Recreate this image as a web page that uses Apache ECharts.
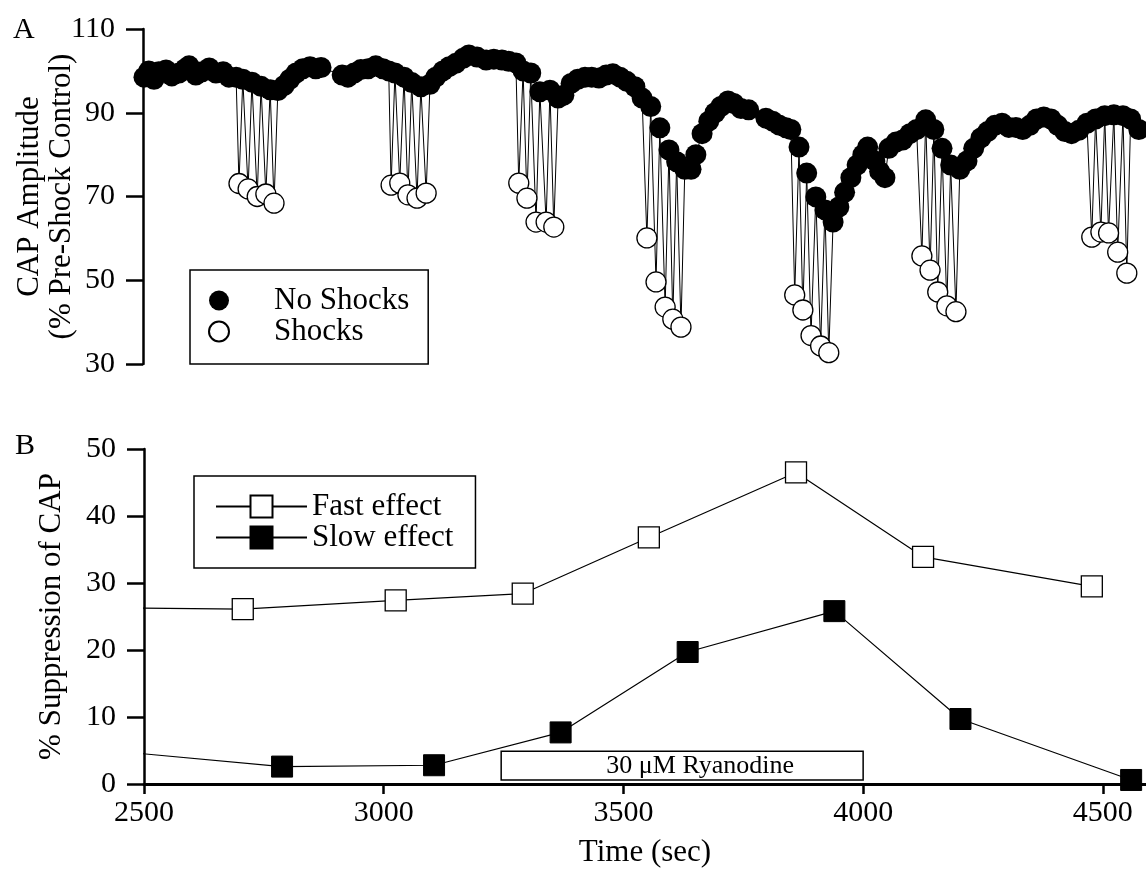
<!DOCTYPE html>
<html><head><meta charset="utf-8">
<script src="https://cdn.jsdelivr.net/npm/echarts@6/dist/echarts.min.js"></script>
<style>html,body{margin:0;padding:0;background:#fff}#c{width:1146px;height:869px}</style>
</head><body><div id="c"></div>
<script>
// ---- Panel A: CAP amplitude (% pre-shock control) ----
const noShockTime = [2502,2512,2523,2533,2548,2560,2575,2588,2596,2610,2623,2638,2652,2667,2679,2694,2708,2727,2746,2765,2781,2794,2806,2819,2833,2848,2860,2871,
  2915,2927,2940,2954,2969,2985,3000,3012,3025,3044,3060,3079,3098,3110,3125,3138,3152,3167,3179,3196,3215,3231,3248,3262,3277,3292,3308,3327,3348,3365,
  3377,3392,3406,3421,3435,3450,3465,3479,3494,3508,3525,3540,3558,3577,3596,3612,3629,3642,3652,3665,3679,3692,3704,3719,3731,3746,3762,
  3798,3812,3825,3840,3850,3867,3883,3902,3921,3938,3950,3962,3975,3988,4000,4010,4025,4035,4046,4054,4069,4083,4098,4112,4131,4148,4165,4183,4202,
  4217,4231,4246,4260,4275,4290,4304,4319,4333,4348,4362,4377,4392,4406,4421,4435,4450,4467,4485,4504,4523,4542,4558,4575];
const noShockCAP = [98.5,100.0,98.0,99.8,100.2,98.8,99.5,100.5,101.2,99.0,99.8,100.7,99.5,99.8,98.5,98.5,98.0,97.3,96.3,95.5,95.3,96.5,98.0,99.5,100.5,101.0,100.5,100.8,
  99.0,98.5,99.5,100.3,100.5,101.2,100.5,100.0,99.5,98.5,97.2,96.2,96.8,98.5,100.0,101.0,101.8,103.0,103.8,103.3,102.6,102.8,102.6,102.3,101.9,100.0,99.5,95.0,95.4,93.5,
  94.2,97.0,98.0,98.5,98.5,98.3,99.0,99.3,98.5,97.5,96.2,93.5,91.5,86.4,81.1,78.3,76.5,76.5,80.0,85.0,88.0,90.0,91.5,92.8,92.2,91.0,90.7,
  88.7,88.0,87.1,86.4,86.0,81.8,75.6,69.9,66.8,63.9,67.5,71.0,74.5,77.5,80.0,81.8,78.5,76.0,74.5,81.5,83.0,83.5,85.0,86.0,88.3,86.0,81.5,77.5,76.5,
  78.5,81.5,84.0,85.5,87.0,87.5,86.5,86.5,86.0,87.0,88.5,89.0,88.5,87.0,85.5,85.0,85.8,87.5,88.5,89.3,89.5,89.3,88.5,86.0];
const shockTime = [2700,2719,2738,2756,2773, 3017,3035,3052,3071,3090, 3283,3300,3319,3340,3356, 3550,3569,3588,3604,3621,
  3858,3875,3892,3912,3929, 4123,4140,4156,4175,4194, 4477,4496,4512,4531,4550];
const shockCAP = [73.1,71.8,70.0,70.6,68.4, 72.7,73.2,70.4,69.6,70.8, 73.2,69.6,63.9,63.9,62.7, 60.1,49.6,43.6,40.7,38.8,
  46.5,42.9,36.8,34.3,32.7, 55.8,52.4,47.2,43.9,42.5, 60.3,61.5,61.3,56.7,51.7];

// ---- Panel B: % suppression of CAP ----
const fastTime = [2440,2706,3025,3290,3553,3860,4125,4477];
const fastEffect = [26.3,26.1,27.4,28.4,36.8,46.5,33.9,29.5];
const slowTime = [2440,2788,3105,3369,3634,3940,4203,4559];
const slowEffect = [4.9,2.6,2.8,7.7,19.7,25.8,9.7,0.6];

const timeTicks = [2500,3000,3500,4000,4500];
const ryanodineLabel = '30 μM Ryanodine';
const ryanodineStart = 3245, ryanodineEnd = 4000;
const ryanodineLow = 0.6, ryanodineHigh = 4.9;

// ---- build ----
const FONT = "'Liberation Serif','Times New Roman',serif";
const zip = (a, b) => a.map((t, i) => [t, b[i]]);
const noShockData = zip(noShockTime, noShockCAP);
const shockData = zip(shockTime, shockCAP);
const traceData = noShockData.concat(shockData).sort((p, q) => p[0] - q[0]);

const chart = echarts.init(document.getElementById('c'), null, {renderer: 'canvas'});
const txt = {color: '#000', fontFamily: FONT};
const plain = v => String(v);
const yBase = (extra) => Object.assign({
  type: 'value',
  axisLine: {show: true, onZero: false, lineStyle: {color: '#000', width: 2.5}},
  axisTick: {show: true, length: 17, lineStyle: {color: '#000', width: 2.5}},
  axisLabel: Object.assign({fontSize: 30, margin: 28, formatter: plain}, txt),
  splitLine: {show: false},
  nameLocation: 'middle', nameRotate: 90, nameMoveOverlap: false,
  nameTextStyle: Object.assign({fontSize: 31, lineHeight: 32}, txt)
}, extra);

chart.setOption({
  animation: false,
  backgroundColor: '#fff',
  title: [
    {text: 'A', left: 8, top: 10, textStyle: Object.assign({fontSize: 30, fontWeight: 'normal'}, txt)},
    {text: 'B', left: 10, top: 426, textStyle: Object.assign({fontSize: 30, fontWeight: 'normal'}, txt)}
  ],
  grid: [
    {left: 143, top: 29, height: 335, right: 0, containLabel: false, outerBoundsMode: 'none'},
    {left: 144, top: 449, height: 335, right: 0, containLabel: false, outerBoundsMode: 'none'}
  ],
  legend: [
    {data: ['No Shocks', 'Shocks'], orient: 'vertical', left: 190, top: 270,
     padding: [15, 19, 17, 18], itemWidth: 100, itemHeight: 20, itemGap: 0,
     borderColor: '#000', borderWidth: 1.5, selectedMode: false,
     textStyle: Object.assign({fontSize: 31, lineHeight: 30}, txt)},
    {data: ['Fast effect', 'Slow effect'], orient: 'vertical', left: 194, top: 476,
     padding: [15, 22, 15, 21], itemWidth: 91, itemHeight: 27.5, itemGap: 0,
     borderColor: '#000', borderWidth: 1.5, selectedMode: false,
     textStyle: Object.assign({fontSize: 31, lineHeight: 30}, txt)}
  ],
  xAxis: [
    {gridIndex: 0, type: 'value', min: 2500, max: 4590, show: false},
    {gridIndex: 1, type: 'value', min: 2500, max: 4590,
     axisLine: {show: true, onZero: false, lineStyle: {color: '#000', width: 3}},
     axisTick: {show: true, customValues: timeTicks, length: 10, lineStyle: {color: '#000', width: 2.5}},
     axisLabel: Object.assign({customValues: timeTicks, fontSize: 30, margin: 14, formatter: plain}, txt),
     splitLine: {show: false},
     name: 'Time (sec)', nameLocation: 'middle', nameGap: 53, nameMoveOverlap: false,
     nameTextStyle: Object.assign({fontSize: 31}, txt)}
  ],
  yAxis: [
    yBase({gridIndex: 0, min: 30, max: 110, interval: 20,
      name: 'CAP Amplitude\n(% Pre-Shock Control)', nameGap: 65}),
    yBase({gridIndex: 1, min: 0, max: 50, interval: 10,
      name: '% Suppression of CAP', nameGap: 76})
  ],
  series: [
    {name: 'trace', type: 'line', xAxisIndex: 0, yAxisIndex: 0, data: traceData,
     symbol: 'none', showSymbol: false, silent: true, z: 1,
     lineStyle: {color: '#000', width: 1}},
    {name: 'Shocks', type: 'scatter', xAxisIndex: 0, yAxisIndex: 0, data: shockData,
     symbol: 'circle', symbolSize: 20, z: 2, silent: true,
     itemStyle: {color: '#fff', borderColor: '#000', borderWidth: 1.3, opacity: 1}},
    {name: 'No Shocks', type: 'scatter', xAxisIndex: 0, yAxisIndex: 0, data: noShockData,
     symbol: 'circle', symbolSize: 21, z: 3, silent: true,
     itemStyle: {color: '#000', borderColor: '#000', borderWidth: 0, opacity: 1}},
    {name: 'Fast effect', type: 'line', xAxisIndex: 1, yAxisIndex: 1, data: zip(fastTime, fastEffect),
     symbol: 'rect', symbolSize: 21, clip: true, silent: true, z: 3,
     itemStyle: {color: '#fff', borderColor: '#000', borderWidth: 1.3},
     lineStyle: {color: '#000', width: 1.2}},
    {name: 'Slow effect', type: 'line', xAxisIndex: 1, yAxisIndex: 1, data: zip(slowTime, slowEffect),
     symbol: 'rect', symbolSize: 21, clip: true, silent: true, z: 3,
     itemStyle: {color: '#000', borderColor: '#000', borderWidth: 1},
     lineStyle: {color: '#000', width: 1.2},
     markArea: {silent: true,
       itemStyle: {color: '#fff', borderColor: '#000', borderWidth: 1.5},
       label: Object.assign({show: true, position: 'inside', offset: [18, 1], fontSize: 26}, txt),
       data: [[{name: ryanodineLabel, xAxis: ryanodineStart, yAxis: ryanodineLow},
               {xAxis: ryanodineEnd, yAxis: ryanodineHigh}]]}}
  ]
});
</script></body></html>
